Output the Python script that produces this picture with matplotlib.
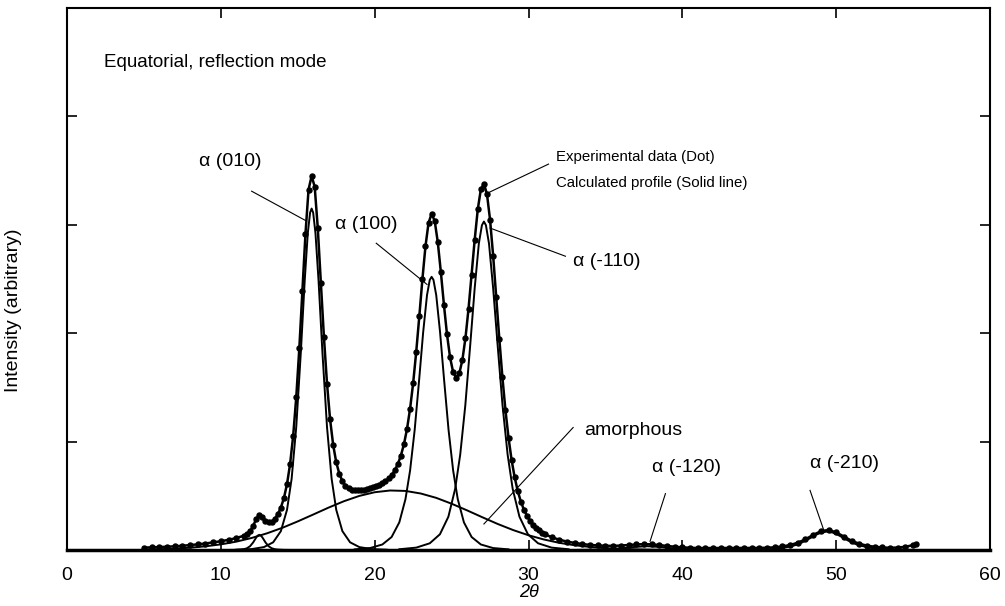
import matplotlib
matplotlib.use("Agg")
import matplotlib.pyplot as plt
import numpy as np

plt.rcParams['font.family'] = ['Liberation Sans', 'DejaVu Sans']

# --- Experimental data (dots) and calculated profile, 2theta in degrees
x_exp = np.concatenate([np.arange(5.0, 11.51, 0.5), [11.7, 11.9],
                        np.linspace(12.1, 31.1, 96),
                        np.linspace(31.5, 55.0, 48), [55.2]])
y_exp = [0.022, 0.024, 0.027, 0.030, 0.034, 0.039, 0.045, 0.052, 0.060, 0.070,
         0.081, 0.094, 0.110, 0.132, 0.150, 0.172,
         # 12.1 .. 31.1
         0.225, 0.285, 0.325, 0.305, 0.272, 0.256, 0.262, 0.286, 0.329, 0.391,
         0.480, 0.608, 0.793, 1.053, 1.407, 1.860, 2.390, 2.918, 3.325, 3.450,
         3.351, 2.970, 2.467, 1.963, 1.535, 1.205, 0.970, 0.809, 0.703, 0.636,
         0.595, 0.570, 0.556, 0.550, 0.549, 0.551, 0.555, 0.562, 0.569, 0.578,
         0.589, 0.601, 0.616, 0.636, 0.660, 0.691, 0.734, 0.792, 0.870, 0.975,
         1.116, 1.303, 1.540, 1.829, 2.156, 2.496, 2.801, 3.017, 3.102, 3.036,
         2.841, 2.565, 2.263, 1.989, 1.776, 1.640, 1.590, 1.629, 1.753, 1.956,
         2.226, 2.540, 2.862, 3.142, 3.327, 3.379, 3.281, 3.046, 2.714, 2.334,
         1.950, 1.596, 1.289, 1.035, 0.830, 0.669, 0.544, 0.447, 0.372, 0.315,
         0.269, 0.232, 0.203, 0.180, 0.160, 0.144,
         # 31.5 .. 55.2
         0.118, 0.095, 0.078, 0.065, 0.055, 0.047, 0.042, 0.039, 0.038, 0.041,
         0.046, 0.051, 0.054, 0.052, 0.046, 0.037, 0.030, 0.024, 0.021, 0.018,
         0.018, 0.017, 0.017, 0.017, 0.017, 0.017, 0.017, 0.019, 0.021, 0.025,
         0.033, 0.046, 0.067, 0.099, 0.139, 0.173, 0.185, 0.163, 0.124, 0.085,
         0.058, 0.040, 0.030, 0.024, 0.020, 0.023, 0.029, 0.046, 0.055]

# --- Separated components
x_010 = [11.0, 12.0, 12.8, 13.4, 13.9, 14.3, 14.6, 14.9, 15.2, 15.45, 15.65, 15.8, 15.9,
         16.0, 16.15, 16.35, 16.6, 16.9, 17.2, 17.5, 17.9, 18.4, 19.0, 19.8, 20.8]
y_010 = [0.0025, 0.0085, 0.027, 0.071, 0.174, 0.371, 0.657, 1.134, 1.827, 2.485, 2.922, 3.112, 3.15,
         3.112, 2.922, 2.485, 1.827, 1.134, 0.657, 0.371, 0.174, 0.071, 0.027, 0.0085, 0.0025]

x_100 = [18.7, 19.7, 20.5, 21.1, 21.6, 22.0, 22.3, 22.6, 22.9, 23.15, 23.4, 23.58, 23.7,
         23.82, 24.0, 24.25, 24.5, 24.8, 25.1, 25.4, 25.8, 26.3, 26.9, 27.7, 28.7]
y_100 = [0.006, 0.018, 0.051, 0.120, 0.255, 0.469, 0.733, 1.109, 1.588, 2.008, 2.351, 2.492, 2.52,
         2.492, 2.351, 2.008, 1.588, 1.109, 0.733, 0.469, 0.255, 0.120, 0.051, 0.018, 0.006]

x_m110 = [21.6, 22.7, 23.58, 24.24, 24.79, 25.23, 25.56, 25.89, 26.22, 26.5, 26.77, 26.97, 27.1,
          27.23, 27.43, 27.7, 27.98, 28.31, 28.64, 28.97, 29.41, 29.96, 30.62, 31.5, 32.6]
y_m110 = [0.007, 0.022, 0.062, 0.145, 0.307, 0.564, 0.881, 1.334, 1.910, 2.415, 2.827, 2.996, 3.03,
          2.996, 2.827, 2.415, 1.910, 1.334, 0.881, 0.564, 0.307, 0.145, 0.062, 0.022, 0.007]

x_small = [10.5, 10.9, 11.3, 11.5, 11.7, 11.9, 12.1, 12.3, 12.4, 12.5, 12.6, 12.7,
           12.9, 13.1, 13.3, 13.5, 13.7, 14.1, 14.5]
y_small = [0.0003, 0.001, 0.0038, 0.0077, 0.0165, 0.0352, 0.07, 0.116, 0.133, 0.14, 0.133, 0.116,
           0.07, 0.0352, 0.0165, 0.0077, 0.0038, 0.001, 0.0003]

x_m120 = [33.2, 34.7, 35.45, 36.2, 36.95, 37.7, 38.45, 39.2, 39.95, 40.7, 42.2]
y_m120 = [0.0009, 0.0041, 0.0088, 0.0175, 0.029, 0.035, 0.029, 0.0175, 0.0088, 0.0041, 0.0009]

x_m210 = [43.8, 45.2, 45.9, 46.6, 47.3, 47.65, 48.0, 48.35, 48.7, 49.05, 49.4,
          49.75, 50.1, 50.45, 50.8, 51.15, 51.5, 52.2, 52.9, 53.6, 55.0]
y_m210 = [0.0009, 0.0034, 0.0094, 0.020, 0.043, 0.061, 0.085, 0.113, 0.141, 0.162, 0.17,
          0.162, 0.141, 0.113, 0.085, 0.061, 0.043, 0.020, 0.0094, 0.0034, 0.0009]

x_amor = [5, 6, 7, 8, 9, 10, 11, 12, 13, 14, 15, 16, 17, 18, 19, 20, 21, 22, 23,
          24, 25, 26, 27, 28, 29, 30, 31, 32, 33, 34, 35, 36, 37, 38, 40]
y_amor = [0.004, 0.007, 0.013, 0.021, 0.034, 0.052, 0.077, 0.111, 0.154, 0.205, 0.264,
          0.327, 0.391, 0.450, 0.499, 0.533, 0.549, 0.545, 0.521, 0.481, 0.427, 0.366,
          0.302, 0.240, 0.184, 0.136, 0.097, 0.066, 0.044, 0.028, 0.017, 0.010, 0.006,
          0.003, 0.001]

components = [(x_small, y_small), (x_010, y_010), (x_100, y_100), (x_m110, y_m110),
              (x_amor, y_amor), (x_m120, y_m120), (x_m210, y_m210)]

# --- Labels: (text, size, text x, text y, leader start, leader end)
labels = [
    ("\u03b1 (010)", 14, 8.6, 3.58, (12.0, 3.31), (15.5, 3.04)),
    ("\u03b1 (100)", 14, 17.4, 3.00, (20.1, 2.83), (23.4, 2.45)),
    ("\u03b1 (-110)", 14, 32.9, 2.66, (32.4, 2.71), (27.5, 2.97)),
    ("Experimental data (Dot)", 10.8, 31.8, 3.63, (31.3, 3.56), (27.3, 3.29)),
    ("Calculated profile (Solid line)", 10.8, 31.8, 3.39, None, None),
    ("amorphous", 14, 33.6, 1.10, (32.9, 1.13), (27.1, 0.24)),
    ("\u03b1 (-120)", 14, 38.0, 0.76, (38.9, 0.52), (37.9, 0.08)),
    ("\u03b1 (-210)", 14, 48.3, 0.80, (48.3, 0.55), (49.2, 0.18)),
]

fig = plt.figure(figsize=(10.05, 6.06), dpi=100)
ax = fig.add_axes([0.0667, 0.0924, 0.9184, 0.8944])

for xc, yc in components:
    ax.plot(xc, yc, color="black", lw=1.4)

ax.plot(x_exp, y_exp, color="black", lw=1.8)
ax.plot(x_exp, y_exp, "o", color="black", ms=3.6)

for txt, size, tx, ty, p0, p1 in labels:
    ax.text(tx, ty, txt, fontsize=size, ha="left", va="center")
    if p0 is not None:
        ax.plot([p0[0], p1[0]], [p0[1], p1[1]], color="black", lw=0.8)

ax.text(2.4, 4.5, "Equatorial, reflection mode", fontsize=13.5, ha="left", va="center")

ax.set_xlim(0, 60)
ax.set_ylim(0, 5)
ax.set_xticks([0, 10, 20, 30, 40, 50, 60])
ax.set_yticks([0, 1, 2, 3, 4, 5])
ax.set_yticklabels([])
ax.tick_params(direction="in", length=7, width=1.2, top=True, right=True,
               labelsize=14, pad=12)
ax.tick_params(axis="x", labeltop=False)

for s in ax.spines.values():
    s.set_linewidth(1.5)
ax.spines["bottom"].set_linewidth(2.5)

ax.set_xlabel("2\u03b8", fontsize=13, style="italic", labelpad=0)
ax.set_ylabel("Intensity (arbitrary)", fontsize=14)
ax.yaxis.set_label_coords(-0.049, 0.443)

fig.savefig("out.png", dpi=100)
